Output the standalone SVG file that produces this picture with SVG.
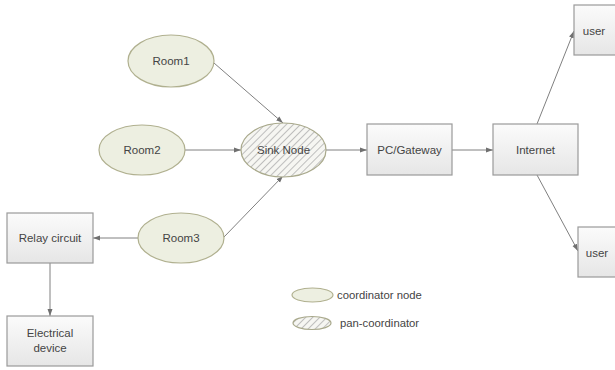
<svg xmlns="http://www.w3.org/2000/svg" width="615" height="370" viewBox="0 0 615 370">
<style>
.coord{fill:#edefe1;stroke:#b0b08f;stroke-width:1.2}
.pan{fill:url(#hatch);stroke:#a9a98c;stroke-width:1.2}
.box{fill:url(#boxg);stroke:#9a9a9a;stroke-width:1.2}
.t{font-family:"Liberation Sans",Arial,sans-serif;font-size:11.5px;fill:#444;text-anchor:middle}
.lt{font-family:"Liberation Sans",Arial,sans-serif;font-size:11.3px;fill:#444}
.c{fill:none;stroke:#808080;stroke-width:1;marker-end:url(#ah)}
</style>
<defs>
<pattern id="hatch" patternUnits="userSpaceOnUse" width="5" height="5" patternTransform="rotate(45)">
<rect width="5" height="5" fill="#f6f6f2"/>
<line x1="0" y1="0" x2="0" y2="5" stroke="#a0a0a0" stroke-width="1.3"/>
</pattern>
<linearGradient id="boxg" x1="0" y1="0" x2="0" y2="1">
<stop offset="0" stop-color="#fbfbfb"/>
<stop offset="1" stop-color="#e6e6e6"/>
</linearGradient>
<marker id="ah" markerWidth="8" markerHeight="8" refX="7" refY="4" orient="auto" markerUnits="userSpaceOnUse">
<path d="M0,1.5 L7,4 L0,6.5 Z" fill="#707070"/>
</marker>
</defs>
<rect width="615" height="370" fill="#ffffff"/>
<g id="connectors">
<line class="c" x1="214" y1="63" x2="283" y2="123"/>
<line class="c" x1="185" y1="150" x2="241" y2="150"/>
<line class="c" x1="224" y1="237" x2="283" y2="176"/>
<line class="c" x1="139" y1="238" x2="93" y2="238"/>
<line class="c" x1="50" y1="263" x2="50" y2="316"/>
<line class="c" x1="326" y1="150" x2="367" y2="150"/>
<line class="c" x1="452" y1="150" x2="493" y2="150"/>
<line class="c" x1="537" y1="124" x2="574" y2="31"/>
<line class="c" x1="537" y1="175" x2="578" y2="251"/>
</g>
<g id="room1"><ellipse class="coord" cx="171" cy="61" rx="43" ry="26"/><text class="t" x="171" y="65">Room1</text></g>
<g id="room2"><ellipse class="coord" cx="142" cy="150" rx="43" ry="25"/><text class="t" x="142" y="154">Room2</text></g>
<g id="room3"><ellipse class="coord" cx="181" cy="238" rx="43" ry="25"/><text class="t" x="181" y="242">Room3</text></g>
<g id="sink"><ellipse class="pan" cx="283.5" cy="150" rx="42.5" ry="27"/><text class="t" x="283.5" y="154">Sink Node</text></g>
<g id="gateway"><rect class="box" x="367" y="124" width="85" height="51"/><text class="t" x="409.5" y="154">PC/Gateway</text></g>
<g id="internet"><rect class="box" x="493" y="124" width="85" height="51"/><text class="t" x="535.5" y="154">Internet</text></g>
<g id="user1"><rect class="box" x="574" y="5" width="60" height="50"/><text class="t" x="594" y="35">user</text></g>
<g id="user2"><rect class="box" x="578" y="227" width="60" height="50"/><text class="t" x="597" y="257">user</text></g>
<g id="relay"><rect class="box" x="7" y="213" width="86" height="50"/><text class="t" x="50" y="242">Relay circuit</text></g>
<g id="device"><rect class="box" x="7" y="316" width="86" height="50"/><text class="t" x="50" y="337">Electrical</text><text class="t" x="50" y="352">device</text></g>
<g id="legend">
<ellipse class="coord" cx="312.5" cy="295" rx="20.5" ry="7"/>
<text class="lt" x="337" y="299">coordinator node</text>
<ellipse class="pan" cx="312" cy="323" rx="19" ry="6.5"/>
<text class="lt" x="340" y="327">pan-coordinator</text>
</g>
</svg>
